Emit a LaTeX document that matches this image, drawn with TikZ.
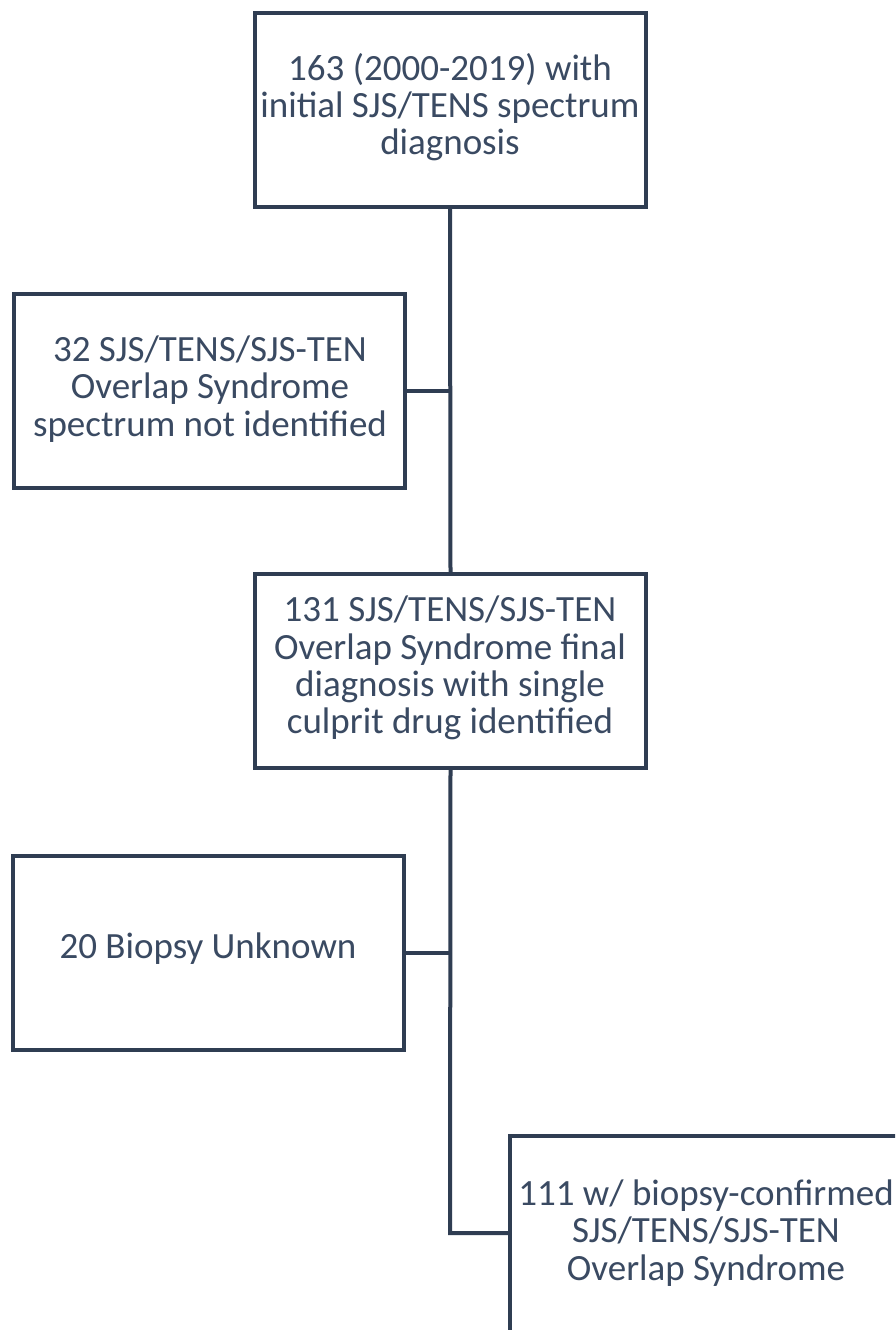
\documentclass[tikz,border=0pt]{standalone}
\usepackage{fontspec}
\setmainfont{Carlito}
\definecolor{ln}{HTML}{2F3D52}
\definecolor{tx}{HTML}{3A4A62}
\begin{document}
\begin{tikzpicture}[x=1pt,y=-1pt,
  box/.style={draw=ln, line width=4pt, minimum width=391pt, minimum height=194pt, inner sep=0pt},
  txt/.style={text=tx, font=\fontsize{37}{37.3}\selectfont, align=center, inner sep=0pt},
  conn/.style={draw=ln, line width=4pt}]
\fill[white] (0,0) rectangle (895,1330);
\path[use as bounding box] (0,0) rectangle (895,1330);
\clip (0,0) rectangle (895,1330);
\node[box] (b1) at (450,110) {};
\node[box] (b2) at (209.5,391) {};
\node[box] (b3) at (450.5,671) {};
\node[box] (b4) at (208,952.5) {};
\node[box, minimum width=400pt, minimum height=210pt] (b5) at (710,1241) {};
\node[txt] (t1) at (450,107) {163 (2000-2019) with\\initial SJS/TENS spectrum\\diagnosis};
\node[txt] (t2) at (210,389) {32 SJS/TENS/SJS-TEN\\Overlap Syndrome\\spectrum not identified};
\node[txt] (t3) at (450,668) {131 SJS/TENS/SJS-TEN\\Overlap Syndrome final\\diagnosis with single\\culprit drug identified};
\node[txt] (t4) at (208,949) {20 Biopsy Unknown};
\node[txt] (t5) at (706,1233) {111 w/ biopsy-confirmed\\SJS/TENS/SJS-TEN\\Overlap Syndrome};
\coordinate (j1) at (450,391);
\coordinate (j2) at (450,952.5);
\coordinate (j3) at (450,1233);
\draw[conn] (b1.south) -- (b3.north);
\draw[conn] (b2.east) -- (j1);
\draw[conn] (b3.south) -- (j3) -- (j3 -| b5.west);
\draw[conn] (b4.east) -- (j2);
\end{tikzpicture}
\end{document}
